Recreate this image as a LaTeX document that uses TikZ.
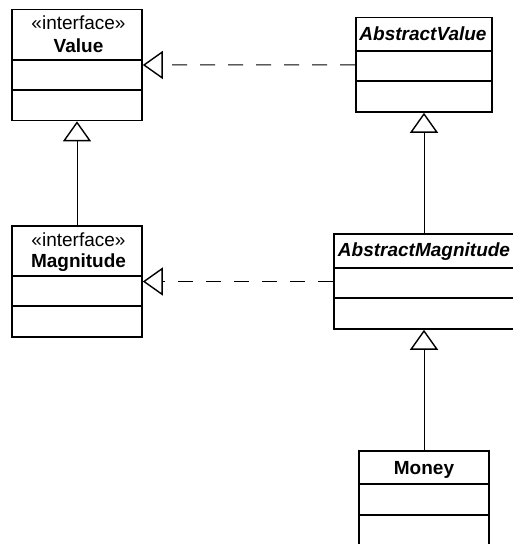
\documentclass[tikz,border=0pt]{standalone}
\usepackage{fontspec}
\setmainfont{Liberation Sans}
\usetikzlibrary{arrows.meta}
\begin{document}
\begin{tikzpicture}[x=1pt,y=-1pt,
  classbox/.style={draw, line width=1.6pt, inner sep=0pt, fill=white},
  cline/.style={line width=1.6pt},
  label/.style={inner sep=0pt, anchor=base, font=\fontsize{19}{22}\selectfont},
  stereo/.style={label},
  cname/.style={label, font=\fontsize{19}{22}\selectfont\bfseries},
  aname/.style={label, font=\fontsize{19}{22}\selectfont\bfseries\itshape},
  gentip/.style={-{Triangle[open, length=20pt, width=28pt, line width=1.4pt, fill=white]}},
  generalize/.style={line width=1pt, gentip},
  realize/.style={line width=1pt, dash pattern=on 15pt off 13pt, gentip}
]
\useasboundingbox (0,0) rectangle (512,544);

% class boxes
\node[classbox, minimum width=130pt, minimum height=111pt] (value) at (77,65) {};
\node[classbox, minimum width=136pt, minimum height=94.5pt] (absval) at (424,64.75) {};
\node[classbox, minimum width=130pt, minimum height=111pt] (magn) at (77,281.5) {};
\node[classbox, minimum width=180pt, minimum height=95pt] (absmag) at (424,281.5) {};
\node[classbox, minimum width=130pt, minimum height=96pt] (money) at (424,498.7) {};

% compartment separators
\draw[cline] (value.north west) ++(0,51.5) -- ++(130,0);
\draw[cline] (value.north west) ++(0,81) -- ++(130,0);
\draw[cline] (absval.north west) ++(0,34.5) -- ++(136,0);
\draw[cline] (absval.north west) ++(0,64.5) -- ++(136,0);
\draw[cline] (magn.north west) ++(0,50.7) -- ++(130,0);
\draw[cline] (magn.north west) ++(0,81) -- ++(130,0);
\draw[cline] (absmag.north west) ++(0,35) -- ++(180,0);
\draw[cline] (absmag.north west) ++(0,65) -- ++(180,0);
\draw[cline] (money.north west) ++(0,34) -- ++(130,0);
\draw[cline] (money.north west) ++(0,65) -- ++(130,0);

% class names
\node[stereo] (valueSt) at (78.5,29.3) {«interface»};
\node[cname] (valueNm) at (78.5,52.7) {Value};
\node[aname] (absvalNm) at (423,40) {AbstractValue};
\node[stereo] (magnSt) at (78.5,246) {«interface»};
\node[cname] (magnNm) at (78.5,267.3) {Magnitude};
\node[aname] (absmagNm) at (424,256) {AbstractMagnitude};
\node[cname] (moneyNm) at (424,474) {Money};

% relations
\draw[realize] (absval.west) -- (value.east);
\draw[generalize] (magn.north) -- (value.south);
\draw[realize] (absmag.west) -- (magn.east);
\draw[generalize] (absmag.north) -- (absval.south);
\draw[generalize] (money.north) -- (absmag.south);
\end{tikzpicture}
\end{document}
